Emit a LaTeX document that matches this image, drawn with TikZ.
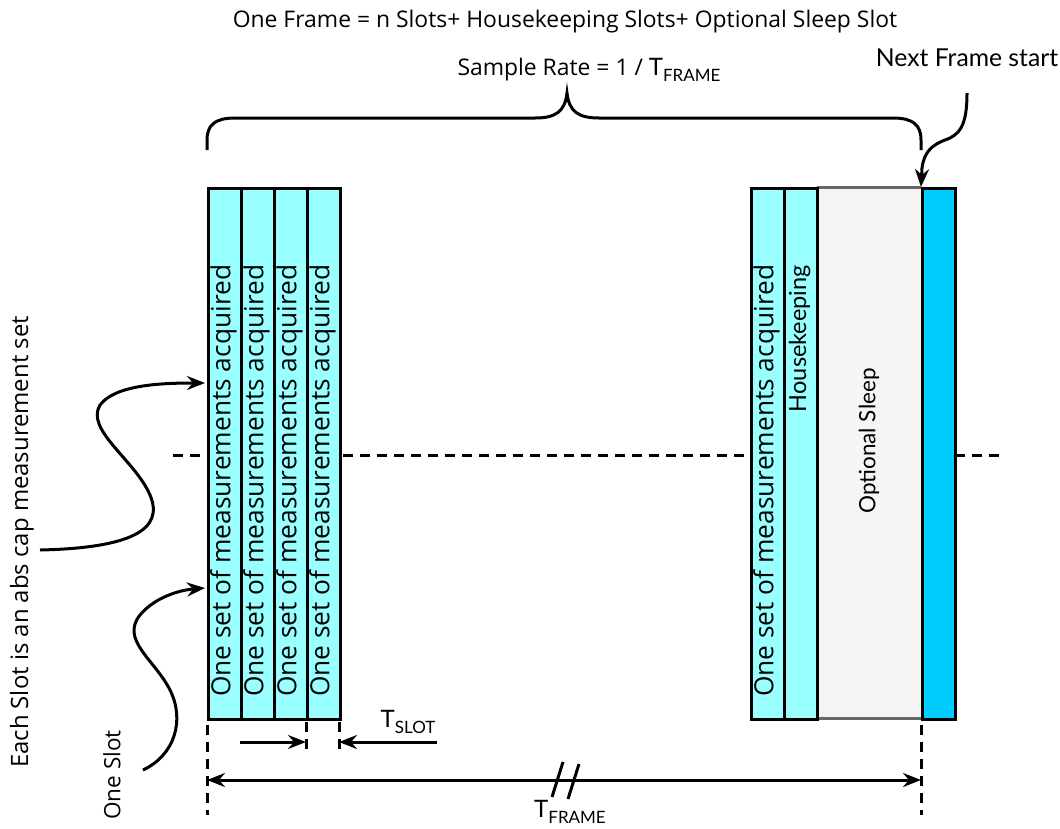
\documentclass[tikz,border=0pt]{standalone}
\usepackage{fontspec}
\setmainfont{Lato}
\newfontfamily\osans{Open Sans}
\usetikzlibrary{arrows.meta}
\definecolor{slotcyan}{HTML}{99FFFF}
\definecolor{sleepgray}{HTML}{F5F5F5}
\definecolor{sleepline}{HTML}{666666}
\definecolor{nextblue}{HTML}{00CCFF}
\newcommand{\sub}[1]{\raisebox{-0.45ex}{\fontsize{17}{19}\selectfont #1}}
\begin{document}
\begin{tikzpicture}[x=1pt,y=-1pt,
  slotbox/.style={draw=black, line width=3pt, fill=slotcyan, minimum width=33pt, minimum height=531pt, inner sep=0pt, anchor=north west},
  oslbl/.style={font=\osans\fontsize{22.9}{26}\selectfont, inner sep=0pt},
  latolbl/.style={font=\fontsize{24}{28}\selectfont, inner sep=0pt},
  slottxt/.style={font=\osans\fontsize{26.3}{29}\selectfont, inner sep=0pt, rotate=90, anchor=west},
  arr/.style={line width=3pt, -{Stealth[length=18pt,width=14pt,inset=6pt]}},
  dashln/.style={line width=3pt, dash pattern=on 10pt off 7pt}
]
\useasboundingbox (0,0) rectangle (1060,828);
% horizontal dashed line
\coordinate (hl) at (173,455);
\coordinate (hr) at (1000,455);
\draw[dashln] (hl) -- (hr);
% left slots
\node[slotbox] (s1) at (207,187) {};
\node[slotbox] (s2) at (240,187) {};
\node[slotbox] (s3) at (273,187) {};
\node[slotbox] (s4) at (306,187) {};
\foreach \x/\n in {223.5/t1,256.5/t2,289.5/t3,322.5/t4}
  \node[slottxt] (\n) at (\x,697) {One set of measurements acquired};
% right part
\node[fill=sleepgray, minimum width=104pt, minimum height=531pt, inner sep=0pt, anchor=north west] (sl) at (817,187) {};
\draw[sleepline, line width=3pt] (sl.north west) -- (sl.north east);
\draw[sleepline, line width=3pt] (sl.south west) -- (sl.south east);
\node[slotbox] (r1) at (750,187) {};
\node[slotbox] (hk) at (783,187) {};
\node[slotbox, fill=nextblue] (nx) at (921,187) {};
\node[slottxt] (tr1) at (766.5,697) {One set of measurements acquired};
\node[latolbl, font=\fontsize{23.5}{27}\selectfont, rotate=90, anchor=east] (thk) at (799.5,265) {Housekeeping};
\node[latolbl, font=\fontsize{22.5}{26}\selectfont, rotate=90] (tsl) at (869,441) {Optional Sleep};
% top texts
\node[oslbl] (title) at (565,22) {One Frame = n Slots+ Housekeeping Slots+ Optional Sleep Slot};
\node[oslbl] (rate) at (589,70) {Sample Rate = 1 / {\rmfamily\fontsize{24}{28}\selectfont T\sub{FRAME}}};
\node[latolbl, font=\fontsize{24.7}{28}\selectfont] (next) at (967,58) {Next Frame start};
% brace
\draw[line width=3pt] (207,150) -- (207,140) .. controls (207,125) and (215,118) .. (235,118) -- (535,118) .. controls (555,118) and (565,112) .. (567,93)
  .. controls (569,112) and (579,118) .. (599,118) -- (893,118) .. controls (913,118) and (921,125) .. (921,140) -- (921,150);
% next frame arrow
\coordinate (nfs) at (967,93);
\draw[arr] (nfs) .. controls (967,125) and (960,135) .. (945,140) .. controls (932,145) and (924,152) .. (922,168) -- (nx.north west);
% left labels and curves
\node[oslbl, font=\osans\fontsize{23.9}{27}\selectfont, rotate=90] (each) at (22,542) {Each Slot is an abs cap measurement set};
\node[oslbl, font=\osans\fontsize{22.5}{26}\selectfont, rotate=90] (one) at (112,775) {One Slot};
\coordinate (c1s) at (40,550);
\coordinate (c1e) at (205,383);
\draw[arr] (c1s) .. controls (130,548) and (165,530) .. (150,495) .. controls (135,460) and (85,430) .. (100,405) .. controls (115,385) and (160,383) .. (c1e);
\coordinate (c2s) at (143,770);
\coordinate (c2e) at (205,588);
\draw[arr] (c2s) .. controls (175,755) and (185,720) .. (170,690) .. controls (155,660) and (120,640) .. (140,615) .. controls (155,597) and (180,590) .. (c2e);
% bottom dimension lines
\draw[dashln] (207,725) -- (207,815);
\draw[dashln] (306,722) -- (306,752);
\draw[dashln] (339,722) -- (339,752);
\draw[dashln] (921,725) -- (921,815);
\coordinate (a1s) at (240,742); \coordinate (a1e) at (306,742);
\coordinate (a2s) at (437,742); \coordinate (a2e) at (339,742);
\draw[arr] (a1s) -- (a1e);
\draw[arr] (a2s) -- (a2e);
\node[latolbl] (tslot) at (408,722) {T\sub{SLOT}};
\coordinate (fl) at (207,780); \coordinate (fr) at (921,780);
\draw[line width=3pt, {Stealth[length=18pt,width=14pt,inset=6pt]}-{Stealth[length=18pt,width=14pt,inset=6pt]}] (fl) -- (fr);
\draw[line width=3pt] (552,797) -- (563,762);
\draw[line width=3pt] (568,799) -- (579,764);
\node[latolbl] (tframe) at (570,812) {T\sub{FRAME}};
\end{tikzpicture}
\end{document}
